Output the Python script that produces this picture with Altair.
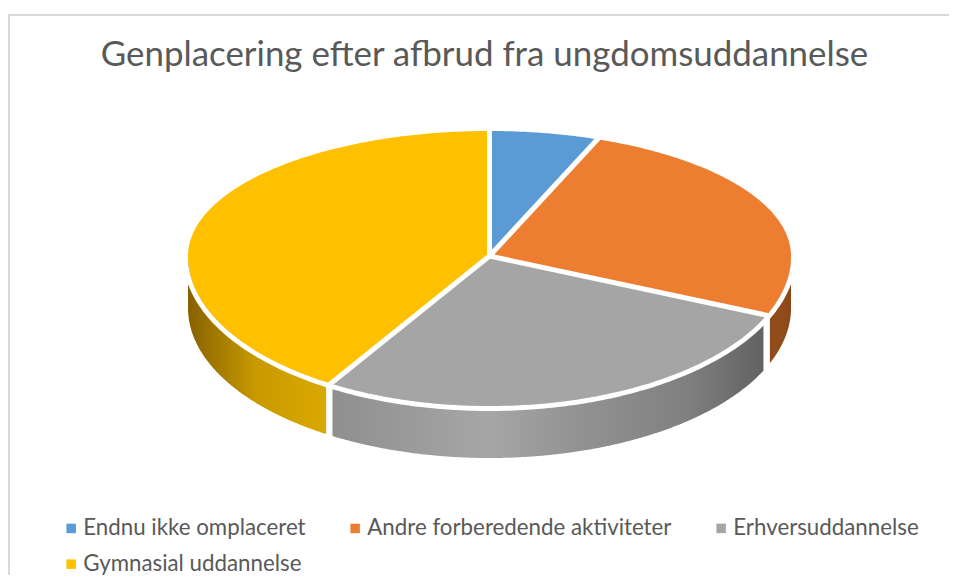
import math
import altair as alt
import pandas as pd

categories = ["Endnu ikke omplaceret", "Andre forberedende aktiviteter", "Erhversuddannelse", "Gymnasial uddannelse"]
values = [5.9, 25.5, 27.5, 41.1]
colors = ["#5B9BD5", "#ED7D31", "#A5A5A5", "#FFC000"]
title_text = "Genplacering efter afbrud fra ungdomsuddannelse"
# Vega fills a columned legend column by column, so this order reads row by row as in the reference
legend_values = [categories[0], categories[2], categories[1], categories[3]]

W, H = 941, 567
CX, CY = 489.5, 256.0
RX, RU, RD, DEPTH = 301.5, 125.0, 150.0, 52.0
FONT = "Lato"


def rim(t, grow=0.0):
    r = RU if math.cos(t) > 0 else RD
    return CX + (RX + grow) * math.sin(t), CY - (r + grow) * math.cos(t)


total = sum(values)
edges = [0.0]
for v in values:
    edges.append(edges[-1] + v / total * 2 * math.pi)

slice_rows, sep_rows = [], []
for k, name in enumerate(categories):
    a, b = edges[k], edges[k + 1]
    n = max(4, int((b - a) * 120))
    pts = [(CX, CY)] + [rim(a + (b - a) * i / n) for i in range(n + 1)] + [(CX, CY)]
    for i, (x, y) in enumerate(pts):
        slice_rows.append({"name": name, "i": i, "x": x, "y": y})
    ex, ey = rim(a, 3.0)
    sep_rows.append({"s": k, "i": 0, "x": CX, "y": CY})
    sep_rows.append({"s": k, "i": 1, "x": ex, "y": ey})

X = alt.X("x:Q", scale=alt.Scale(domain=[8, 8 + W], range=[0, W]), axis=None)
Y = alt.Y("y:Q", scale=alt.Scale(domain=[8, 8 + H], range=[0, H]), axis=None)


def wall(a, b, stops, trim_left, trim_right):
    n = 300
    rows = []
    for i in range(n + 1):
        t = a + (b - a) * i / n
        x, y = rim(t)
        rows.append({"x": x, "y": y, "y2": y + DEPTH})
    lo, hi = min(r["x"] for r in rows), max(r["x"] for r in rows)
    rows = [r for r in rows if lo + trim_left <= r["x"] <= hi - trim_right]
    grad = alt.Gradient(
        gradient="linear", x1=0, x2=1, y1=0, y2=0,
        stops=[alt.GradientStop(offset=o, color=c) for o, c in stops],
    )
    return alt.Chart(pd.DataFrame(rows)).mark_area(color=grad).encode(x=X, y=Y, y2="y2:Q")


walls = [
    wall(math.pi / 2, edges[2], [(0, "#8F4C1A"), (0.6, "#914C1B"), (1, "#8A4715")], 2.8, 0),
    wall(edges[2], edges[3], [(0, "#8F8F8F"), (0.36, "#A6A6A6"), (0.55, "#949494"), (0.82, "#808080"), (1, "#626262")], 2.8, 2.8),
    wall(edges[3], 1.5 * math.pi, [(0, "#866200"), (0.5, "#C99A00"), (1, "#D9A800")], 0, 2.8),
]

arc_rows = []
for i in range(201):
    t = math.pi / 2 + math.pi * i / 200
    x, y = rim(t, 2.5)
    arc_rows.append({"i": i, "x": x, "y": y})
arc = alt.Chart(pd.DataFrame(arc_rows)).mark_line(color="white", strokeWidth=5).encode(
    x=X, y=Y, order="i:O"
)

slices = alt.Chart(pd.DataFrame(slice_rows)).mark_line(strokeWidth=0, strokeOpacity=0).encode(
    x=X,
    y=Y,
    order="i:Q",
    detail="name:N",
    fill=alt.Fill(
        "name:N",
        scale=alt.Scale(domain=categories, range=colors),
        legend=alt.Legend(
            orient="none", legendX=52, legendY=509, columns=3, title=None,
            values=legend_values,
            symbolType="square", symbolSize=90, symbolStrokeWidth=0,
            labelFont=FONT, labelFontSize=22.3, labelColor="#595959", labelLimit=500,
            columnPadding=38, rowPadding=13, labelOffset=1,
        ),
    ),
)

seps = alt.Chart(pd.DataFrame(sep_rows)).mark_line(color="white", strokeWidth=5).encode(
    x=X, y=Y, order="i:Q", detail="s:N"
)

frame_top = alt.Chart(pd.DataFrame({"a": [0]})).mark_rule(color="#D9D9D9", strokeWidth=2).encode(
    x=alt.value(1), x2=alt.value(W), y=alt.value(7)
)
frame_left = alt.Chart(pd.DataFrame({"a": [0]})).mark_rule(color="#D9D9D9", strokeWidth=2).encode(
    x=alt.value(1), y=alt.value(6), y2=alt.value(H)
)
title = alt.Chart(pd.DataFrame({"t": [title_text]})).mark_text(
    font=FONT, fontSize=34.9, color="#595959", align="center", baseline="alphabetic"
).encode(text="t:N", x=alt.value(476.5), y=alt.value(58))

chart = alt.layer(frame_top, frame_left, *walls, arc, slices, seps, title).properties(
    width=W, height=H, padding=0, autosize=alt.AutoSizeParams(type="none"),
).configure_view(stroke=None)

chart.save("out.html", embed_options={"renderer": "svg", "actions": False})
